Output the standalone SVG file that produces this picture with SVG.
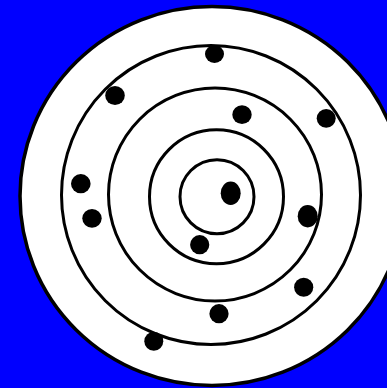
<svg xmlns="http://www.w3.org/2000/svg" width="387" height="388" viewBox="0 0 387 388">
  <style>
    .ring { fill: none; stroke: #000; stroke-width: 3; }
    .dot { fill: #000; }
  </style>
  <rect x="0" y="0" width="387" height="388" fill="#0000FF"/>
  <g id="rings">
    <ellipse id="outer" cx="212" cy="196" rx="192" ry="189.5" fill="#fff" stroke="#000" stroke-width="3.5"/>
    <circle id="ring4" class="ring" cx="211" cy="195" r="149.5"/>
    <circle id="ring3" class="ring" cx="215" cy="194.5" r="106.5"/>
    <circle id="ring2" class="ring" cx="216.5" cy="196.7" r="67"/>
    <circle id="ring1" class="ring" cx="217" cy="196.7" r="37"/>
  </g>
  <g id="dots">
    <ellipse class="dot" cx="214.5" cy="54" rx="9.5" ry="9"/>
    <ellipse class="dot" cx="115" cy="95.5" rx="9.8" ry="9.5"/>
    <ellipse class="dot" cx="242" cy="114.7" rx="9.7" ry="9.4"/>
    <ellipse class="dot" cx="326.2" cy="118.3" rx="9.5" ry="9.4"/>
    <ellipse class="dot" cx="80.8" cy="183.7" rx="9.8" ry="9.6"/>
    <ellipse class="dot" cx="92" cy="218.3" rx="9.7" ry="9.4"/>
    <ellipse class="dot" cx="230.7" cy="193.3" rx="10" ry="11.7"/>
    <ellipse class="dot" cx="307.7" cy="216.2" rx="10" ry="11.2"/>
    <ellipse class="dot" cx="199.7" cy="244.7" rx="9.6" ry="9.6"/>
    <ellipse class="dot" cx="303.7" cy="287.2" rx="9.6" ry="9.5"/>
    <ellipse class="dot" cx="219" cy="313.7" rx="9.6" ry="9.6"/>
    <ellipse class="dot" cx="153.8" cy="341.2" rx="9.5" ry="9.5"/>
  </g>
</svg>
